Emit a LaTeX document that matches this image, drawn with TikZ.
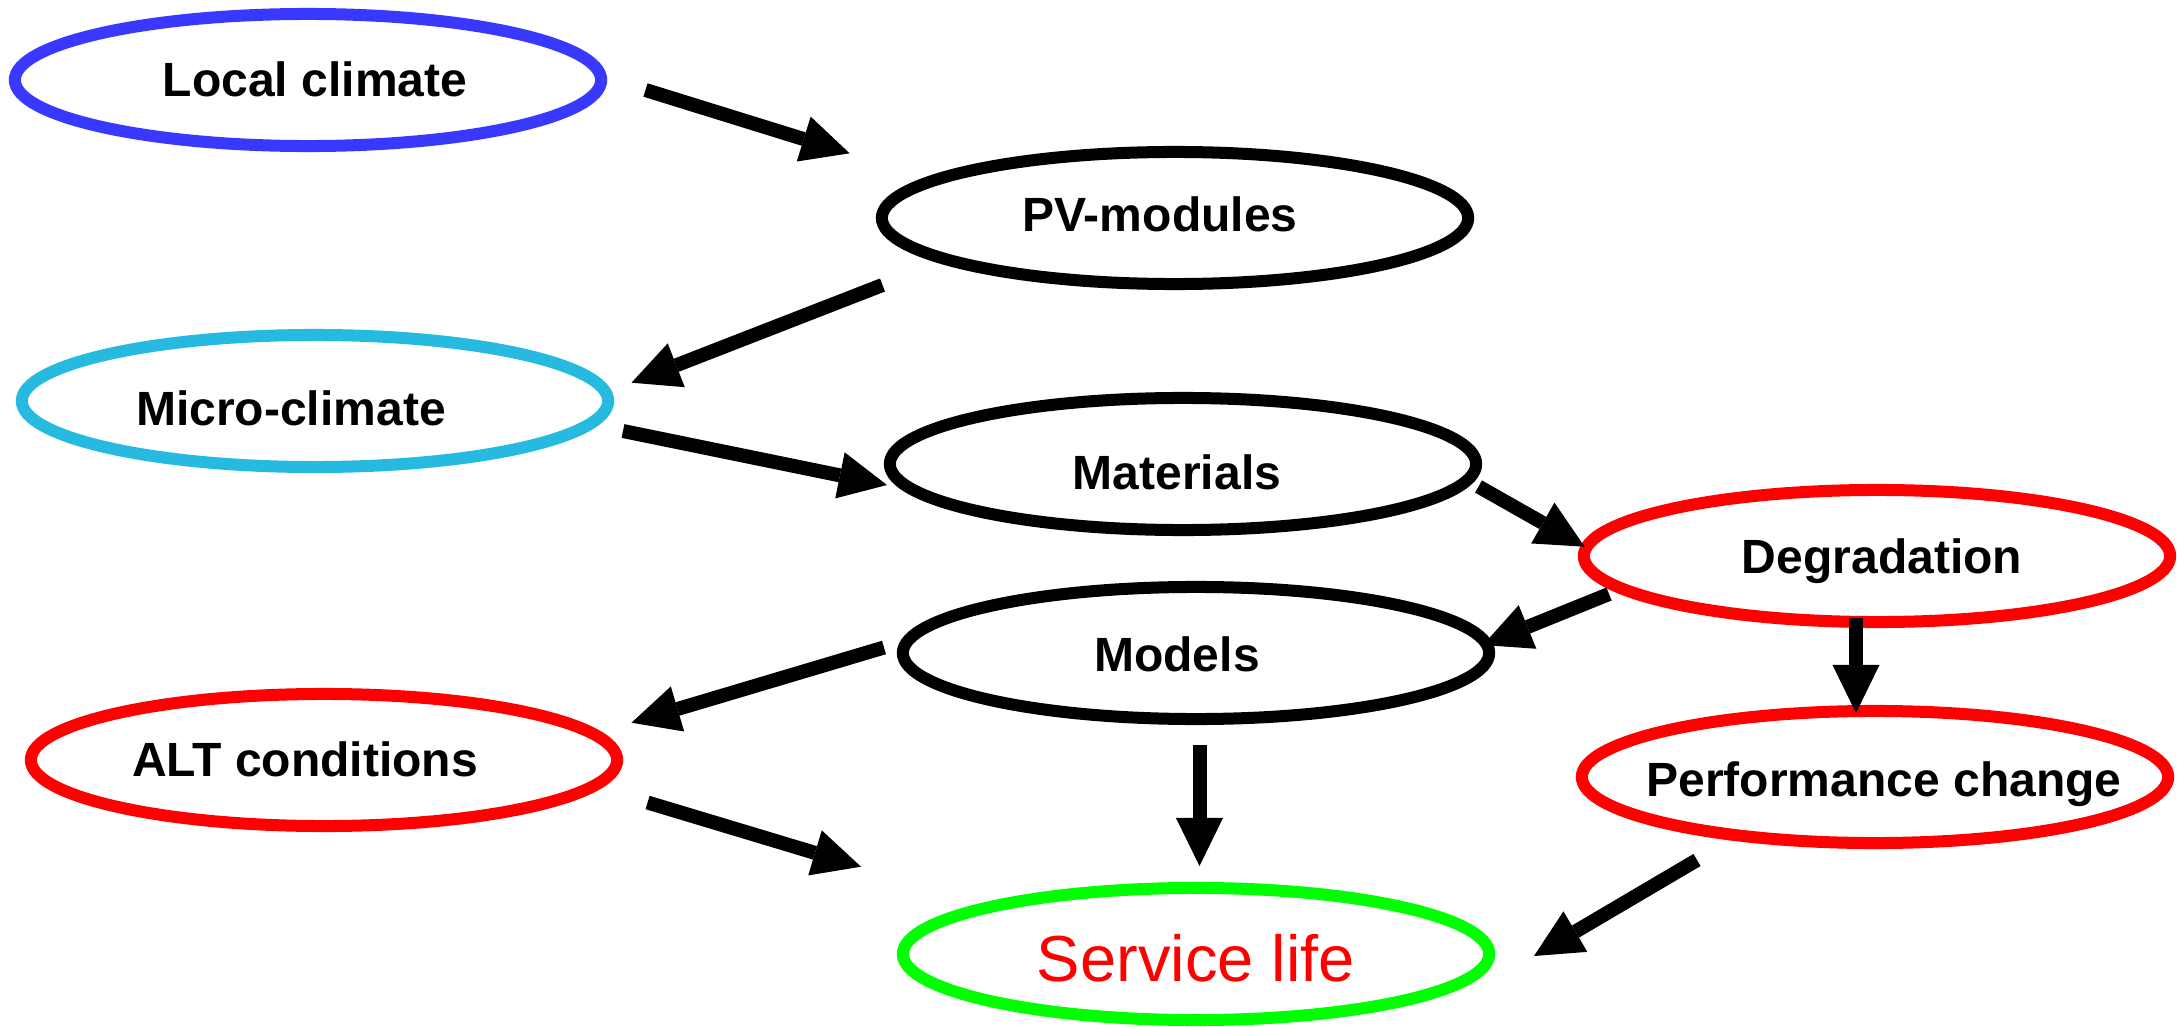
\documentclass[tikz,border=0pt]{standalone}
\usepackage{fontspec}
\setmainfont{Liberation Sans}
\usetikzlibrary{shapes.geometric,arrows.meta}
\definecolor{climblue}{RGB}{56,56,255}
\definecolor{microcyan}{RGB}{38,186,224}
\definecolor{alarmred}{RGB}{255,0,0}
\definecolor{lifegreen}{RGB}{0,255,0}
\begin{document}
\begin{tikzpicture}[x=0.01cm,y=-0.01cm,
  oval/.style={ellipse, draw=#1, line width=0.12cm, minimum width=5.86cm,
    minimum height=1.32cm, inner sep=0pt},
  oval/.default=black,
  lbl/.style={anchor=base, inner sep=0pt,
    font=\fontsize{13.66pt}{16pt}\selectfont\bfseries},
  lifelbl/.style={anchor=base, inner sep=0pt, text=alarmred,
    font=\fontsize{18.5pt}{22pt}\selectfont},
  flow/.style={line width=0.14cm,
    -{Triangle[length=0.48cm,width=0.47cm,line width=0pt]}}]
\useasboundingbox (0,0) rectangle (2177,1027);

% ellipses
\node[oval=climblue]  (local)  at (308,80)   {};
\node[oval]           (pv)     at (1175,218) {};
\node[oval=microcyan] (micro)  at (315,401)  {};
\node[oval]           (mat)    at (1183,464) {};
\node[oval=alarmred]  (deg)    at (1877,556) {};
\node[oval]           (models) at (1196,653) {};
\node[oval=alarmred]  (alt)    at (324,760)  {};
\node[oval=alarmred]  (perf)   at (1875,777) {};
\node[oval=lifegreen] (life)   at (1196,954) {};

% labels
\node[lbl] (local-t)  at (315,96.5)  {Local climate};
\node[lbl] (pv-t)     at (1160,231)  {PV-modules};
\node[lbl] (micro-t)  at (291,425)   {Micro-climate};
\node[lbl] (mat-t)    at (1177,489)  {Materials};
\node[lbl] (deg-t)    at (1882,573)  {Degradation};
\node[lbl] (models-t) at (1177,671)  {Models};
\node[lbl] (alt-t)    at (305,776)   {ALT conditions};
\node[lbl] (perf-t)   at (1884,796)  {Performance change};
\node[lifelbl] (life-t) at (1196,981) {Service life};

% connector end points (the arrows stop short of the ellipses)
\coordinate (local-out)  at (645.5,90);
\coordinate (pv-in)      at (849.6,153.3);
\coordinate (pv-out)     at (882.5,285);
\coordinate (micro-in)   at (631.5,382.7);
\coordinate (micro-out)  at (623,431);
\coordinate (mat-in)     at (887,485);
\coordinate (mat-out)    at (1478.5,486.5);
\coordinate (deg-in)     at (1584.6,546.7);
\coordinate (deg-out-l)  at (1609,594);
\coordinate (models-in)  at (1483,645);
\coordinate (deg-out-d)  at (1856,617.5);
\coordinate (perf-in)    at (1856,713);
\coordinate (models-out-l) at (884,647.5);
\coordinate (alt-in)     at (631.5,722.7);
\coordinate (alt-out)    at (647.6,802.5);
\coordinate (life-in-l)  at (861,866.7);
\coordinate (models-out-d) at (1199.5,745);
\coordinate (life-in-t)  at (1199.5,866);
\coordinate (perf-out)   at (1697,860);
\coordinate (life-in-r)  at (1534,956);

% arrows
\draw[flow] (local-out) -- (pv-in);
\draw[flow] (pv-out) -- (micro-in);
\draw[flow] (micro-out) -- (mat-in);
\draw[flow] (mat-out) -- (deg-in);
\draw[flow] (deg-out-l) -- (models-in);
\draw[flow] (deg-out-d) -- (perf-in);
\draw[flow] (models-out-l) -- (alt-in);
\draw[flow] (alt-out) -- (life-in-l);
\draw[flow] (models-out-d) -- (life-in-t);
\draw[flow] (perf-out) -- (life-in-r);
\end{tikzpicture}
\end{document}
